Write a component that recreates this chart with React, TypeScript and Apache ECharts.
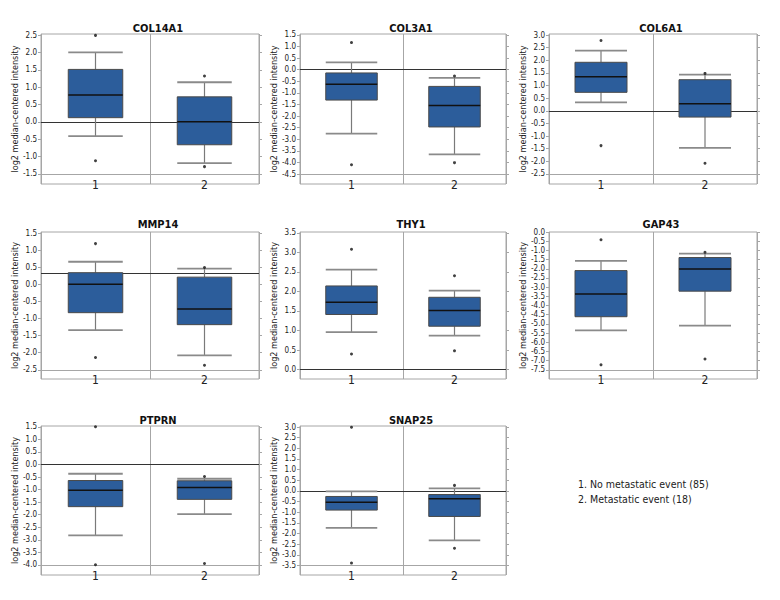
import React, { useEffect, useRef } from "react";
import * as echarts from "echarts";

const genes = ["COL14A1", "COL3A1", "COL6A1", "MMP14", "THY1", "GAP43", "PTPRN", "SNAP25"];
const categories = ["1", "2"];
const legendLines = ["1. No metastatic event (85)", "2. Metastatic event (18)"];
const yAxisName = "log2 median-centered intensity";

// per gene: two groups, each [lowerWhisker, Q1, median, Q3, upperWhisker]
const boxCOL14A1 = [[-0.41, 0.12, 0.77, 1.51, 2.0], [-1.19, -0.66, 0.0, 0.72, 1.14]];
const boxCOL3A1 = [[-2.76, -1.31, -0.63, -0.14, 0.32], [-3.65, -2.47, -1.54, -0.72, -0.35]];
const boxCOL6A1 = [[0.33, 0.73, 1.35, 1.92, 2.38], [-1.47, -0.25, 0.28, 1.23, 1.43]];
const boxMMP14 = [[-1.34, -0.83, 0.0, 0.34, 0.66], [-2.08, -1.18, -0.72, 0.21, 0.46]];
const boxTHY1 = [[0.96, 1.41, 1.72, 2.14, 2.56], [0.87, 1.11, 1.51, 1.85, 2.02]];
const boxGAP43 = [[-5.35, -4.61, -3.38, -2.1, -1.57], [-5.1, -3.22, -2.01, -1.39, -1.18]];
const boxPTPRN = [[-2.82, -1.68, -1.03, -0.64, -0.37], [-1.98, -1.39, -0.92, -0.65, -0.57]];
const boxSNAP25 = [[-1.74, -0.9, -0.53, -0.26, -0.02], [-2.32, -1.2, -0.37, -0.17, 0.12]];

// outliers per group
const outCOL14A1 = [[2.49, -1.12], [1.32, -1.29]];
const outCOL3A1 = [[1.17, -4.1], [-0.27, -4.01]];
const outCOL6A1 = [[2.78, -1.38], [1.48, -2.08]];
const outMMP14 = [[1.19, -2.14], [0.49, -2.37]];
const outTHY1 = [[3.08, 0.4], [2.4, 0.48]];
const outGAP43 = [[-0.42, -7.23], [-1.1, -6.91]];
const outPTPRN = [[1.5, -3.99], [-0.48, -3.94]];
const outSNAP25 = [[2.99, -3.39], [0.26, -2.69]];

// tick labels per gene
const ticksCOL14A1 = [-1.5, -1.0, -0.5, 0.0, 0.5, 1.0, 1.5, 2.0, 2.5];
const ticksCOL3A1 = [-4.5, -4.0, -3.5, -3.0, -2.5, -2.0, -1.5, -1.0, -0.5, 0.0, 0.5, 1.0, 1.5];
const ticksCOL6A1 = [-2.5, -2.0, -1.5, -1.0, -0.5, 0.0, 0.5, 1.0, 1.5, 2.0, 2.5, 3.0];
const ticksMMP14 = [-2.5, -2.0, -1.5, -1.0, -0.5, 0.0, 0.5, 1.0, 1.5];
const ticksTHY1 = [0.0, 0.5, 1.0, 1.5, 2.0, 2.5, 3.0, 3.5];
const ticksGAP43 = [-7.5, -7.0, -6.5, -6.0, -5.5, -5.0, -4.5, -4.0, -3.5, -3.0, -2.5, -2.0, -1.5, -1.0, -0.5, 0.0];
const ticksPTPRN = [-4.0, -3.5, -3.0, -2.5, -2.0, -1.5, -1.0, -0.5, 0.0, 0.5, 1.0, 1.5];
const ticksSNAP25 = [-3.5, -3.0, -2.5, -2.0, -1.5, -1.0, -0.5, 0.0, 0.5, 1.0, 1.5, 2.0, 2.5, 3.0];

// axis extents [min, max]
const rangeCOL14A1 = [-1.79, 2.53];
const rangeCOL3A1 = [-4.93, 1.54];
const rangeCOL6A1 = [-2.9, 3.04];
const rangeMMP14 = [-2.77, 1.53];
const rangeTHY1 = [-0.24, 3.52];
const rangeGAP43 = [-8.0, 0.0];
const rangePTPRN = [-4.4, 1.53];
const rangeSNAP25 = [-3.95, 3.05];

// reference (dark) line per gene
const refLines: (number | null)[] = [0, 0, 0, 0.32, 0, null, 0, 0];

const boxes = [boxCOL14A1, boxCOL3A1, boxCOL6A1, boxMMP14, boxTHY1, boxGAP43, boxPTPRN, boxSNAP25];
const outliers = [outCOL14A1, outCOL3A1, outCOL6A1, outMMP14, outTHY1, outGAP43, outPTPRN, outSNAP25];
const ticks = [ticksCOL14A1, ticksCOL3A1, ticksCOL6A1, ticksMMP14, ticksTHY1, ticksGAP43, ticksPTPRN, ticksSNAP25];
const ranges = [rangeCOL14A1, rangeCOL3A1, rangeCOL6A1, rangeMMP14, rangeTHY1, rangeGAP43, rangePTPRN, rangeSNAP25];

// layout
const colLeft = [41, 300, 549];
const colWidth = [218, 206, 208];
const rowTop = [34, 232, 426];
const rowHeight = [150, 147, 149];
const titleTop = [18, 214, 410];

const FONT = "'Liberation Sans Narrow', 'DejaVu Sans Condensed', 'Roboto', sans-serif";
const BOX_FILL = "#2c5d9b";
const FRAME = "#a6a6a6";

export default function App() {
  const ref = useRef<HTMLDivElement>(null);
  useEffect(() => {
    document.body.style.margin = "0";
    if (!ref.current) return;
    const chart = echarts.init(ref.current, null, { renderer: "svg" });

    const grids: any[] = [];
    const xAxes: any[] = [];
    const yAxes: any[] = [];
    const series: any[] = [];
    const titles: any[] = [];

    genes.forEach((g, i) => {
      const r = Math.floor(i / 3);
      const c = i % 3;
      grids.push({
        left: colLeft[c],
        top: rowTop[r],
        width: colWidth[c],
        height: rowHeight[r],
        show: true,
        borderColor: FRAME,
        borderWidth: 1,
        backgroundColor: "transparent",
      });
      titles.push({
        text: g,
        left: colLeft[c] + colWidth[c] / 2 + 3,
        top: titleTop[r],
        textAlign: "center",
        textStyle: { fontFamily: FONT, fontSize: 11, fontWeight: "bold", color: "#111" },
      });
      xAxes.push({
        type: "category",
        gridIndex: i,
        data: categories,
        axisLine: { show: false, onZero: false },
        axisTick: { show: false },
        axisLabel: { margin: -5, fontFamily: FONT, fontSize: 12, color: "#222" },
        splitLine: { show: true, lineStyle: { color: FRAME, width: 1 } },
      });
      const [mn, mx] = ranges[i];
      yAxes.push({
        type: "value",
        gridIndex: i,
        position: "left",
        min: mn,
        max: mx,
        name: yAxisName,
        nameLocation: "middle",
        nameGap: 22,
        nameMoveOverlap: false,
        nameTextStyle: { fontFamily: FONT, fontSize: 9, color: "#222" },
        axisLine: { show: false },
        axisTick: { show: true, length: 3, customValues: ticks[i], lineStyle: { color: FRAME } },
        axisLabel: {
          customValues: ticks[i],
          margin: 4,
          fontFamily: FONT,
          fontSize: 8,
          color: "#222",
          formatter: (v: number) => v.toFixed(1),
        },
        splitLine: { show: false },
      });
      yAxes.push({
        type: "value",
        gridIndex: i,
        position: "right",
        min: mn,
        max: mx,
        axisLine: { show: false },
        axisTick: { show: true, length: 3, customValues: ticks[i], lineStyle: { color: FRAME } },
        axisLabel: { show: false },
        splitLine: { show: false },
      });

      const boxData = boxes[i].map((b, k) => [k, ...b]);
      series.push({
        type: "custom",
        xAxisIndex: i,
        yAxisIndex: 2 * i,
        encode: { x: 0, y: [1, 2, 3, 4, 5] },
        data: boxData,
        z: 3,
        renderItem: (_p: any, api: any) => {
          const x = api.value(0);
          const lo = api.coord([x, api.value(1)]);
          const q1 = api.coord([x, api.value(2)]);
          const md = api.coord([x, api.value(3)]);
          const q3 = api.coord([x, api.value(4)]);
          const hi = api.coord([x, api.value(5)]);
          const bw = api.size([1, 0])[0] * 0.5;
          const cx = lo[0];
          const h = bw / 2;
          const wStyle = { stroke: "#7a7a7a", lineWidth: 1.2 };
          const cStyle = { stroke: "#8a8a8a", lineWidth: 1.8 };
          return {
            type: "group",
            children: [
              { type: "line", shape: { x1: cx, y1: hi[1], x2: cx, y2: q3[1] }, style: wStyle },
              { type: "line", shape: { x1: cx, y1: q1[1], x2: cx, y2: lo[1] }, style: wStyle },
              { type: "line", shape: { x1: cx - h, y1: hi[1], x2: cx + h, y2: hi[1] }, style: cStyle },
              { type: "line", shape: { x1: cx - h, y1: lo[1], x2: cx + h, y2: lo[1] }, style: cStyle },
              {
                type: "rect",
                shape: { x: cx - h, y: q3[1], width: bw, height: q1[1] - q3[1] },
                style: { fill: BOX_FILL, stroke: "#4a4a4a", lineWidth: 1 },
              },
              { type: "line", shape: { x1: cx - h, y1: md[1], x2: cx + h, y2: md[1] }, style: { stroke: "#111", lineWidth: 1.5 } },
            ],
          };
        },
      });

      const outData: number[][] = [];
      outliers[i].forEach((vals, k) => vals.forEach((v) => outData.push([k, v])));
      const mlData: any[] = [
        { yAxis: ticks[i][0], lineStyle: { color: FRAME, width: 1, type: "solid" } },
      ];
      if (refLines[i] !== null) {
        mlData.push({ yAxis: refLines[i], lineStyle: { color: "#333", width: 1.2, type: "solid" } });
      }
      series.push({
        type: "scatter",
        xAxisIndex: i,
        yAxisIndex: 2 * i,
        data: outData,
        symbol: "circle",
        symbolSize: 3,
        itemStyle: { color: "#111" },
        z: 4,
        markLine: {
          silent: true,
          symbol: "none",
          label: { show: false },
          z: 2,
          data: mlData,
        },
      });
    });

    chart.setOption({
      animation: false,
      backgroundColor: "#fff",
      title: titles,
      grid: grids,
      xAxis: xAxes,
      yAxis: yAxes,
      series,
      graphic: [
        {
          type: "text",
          left: 578,
          top: 476,
          style: {
            text: legendLines.join("\n"),
            fontFamily: FONT,
            fontSize: 10.5,
            lineHeight: 15,
            fill: "#222",
          },
        },
      ],
    });
    return () => chart.dispose();
  }, []);
  return <div ref={ref} style={{ width: 780, height: 600 }} />;
}
